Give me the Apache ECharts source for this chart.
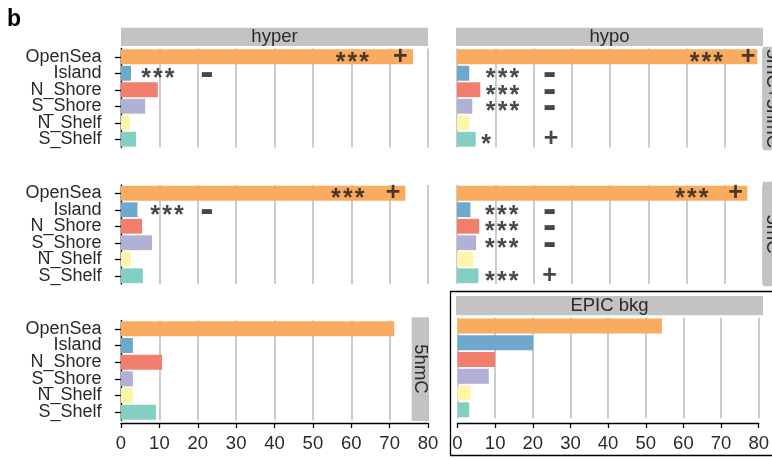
<!DOCTYPE html>
<html><head><meta charset="utf-8">
<script src="https://cdn.jsdelivr.net/npm/echarts@6/dist/echarts.min.js"></script>
<style>html,body{margin:0;padding:0;background:#fff}#c{width:772px;height:460px}</style>
</head><body><div id="c"></div>
<script>
const categories = ['OpenSea','Island','N_Shore','S_Shore','N_Shelf','S_Shelf'];
const colors = ['#F9AC5F','#6FA8CD','#F27E6E','#B1B0D5','#FFF5A8','#83D0C2'];
const xTicks = [0,10,20,30,40,50,60,70,80];

const hyper_5mC5hmC = [76.1, 2.6, 9.6, 6.3, 2.3, 3.9];
const hypo_5mC5hmC  = [78.5, 3.2, 6.1, 4.0, 3.2, 4.9];
const hyper_5mC     = [74.1, 4.3, 5.5, 8.1, 2.6, 5.7];
const hypo_5mC      = [75.9, 3.5, 5.8, 5.0, 4.2, 5.6];
const hyper_5hmC    = [71.2, 3.1, 10.7, 3.1, 3.1, 9.1];
const epic_bkg      = [54.3, 20.1, 10.0, 8.3, 3.4, 3.1];

// significance annotations: [category, x position, text]
const ann_hyper_5mC5hmC = [['OpenSea',60.3,'***'],['OpenSea',72.8,'+'],['Island',9.6,'***'],['Island',22.4,'-']];
const ann_hypo_5mC5hmC  = [['OpenSea',65.2,'***'],['OpenSea',76.1,'+'],['Island',11.9,'***'],['Island',24.2,'-'],
  ['N_Shore',11.9,'***'],['N_Shore',24.2,'-'],['S_Shore',11.9,'***'],['S_Shore',24.2,'-'],['S_Shelf',7.6,'*'],['S_Shelf',24.6,'+']];
const ann_hyper_5mC = [['OpenSea',59.1,'***'],['OpenSea',70.9,'+'],['Island',12.0,'***'],['Island',22.4,'-']];
const ann_hypo_5mC  = [['OpenSea',61.4,'***'],['OpenSea',72.8,'+'],['Island',11.7,'***'],['Island',24.2,'-'],
  ['N_Shore',11.7,'***'],['N_Shore',24.2,'-'],['S_Shore',11.7,'***'],['S_Shore',24.2,'-'],['S_Shelf',11.7,'***'],['S_Shelf',24.2,'+']];

const FONT = "'Liberation Sans', Arial, Helvetica, sans-serif";
const NFONT = "'Liberation Sans Narrow', 'Arial Narrow', 'Liberation Sans', sans-serif";
const GRIDC = '#BEBFBF';
const STRIP = '#C3C3C4';
const TXT = '#2a2a2a';

const grids = [
  {left:121, top:48.5, width:307, height:99},
  {left:457, top:48.5, width:306, height:99},
  {left:121, top:185, width:307, height:99},
  {left:457, top:185, width:306, height:99},
  {left:121, top:320.5, width:307, height:100},
  {left:457.5, top:317.6, width:305, height:100.6}
];
const panelData = [hyper_5mC5hmC, hypo_5mC5hmC, hyper_5mC, hypo_5mC, hyper_5hmC, epic_bkg];
const panelAnn = [ann_hyper_5mC5hmC, ann_hypo_5mC5hmC, ann_hyper_5mC, ann_hypo_5mC, [], []];

const xAxes = grids.map((g,i)=>{
  const bottom = i>=4;
  return {
    gridIndex:i, type:'value', min:0, max:80, interval:10,
    offset: i===4 ? 2.5 : (i===5 ? 4.8 : 0),
    axisLine:{show:bottom, onZero:false, lineStyle:{color:'#000', width:1.3}},
    axisTick:{show:bottom, length:5, lineStyle:{color:'#000', width:1.3}},
    axisLabel:{show:bottom, fontSize:18.5, color:TXT, fontFamily:NFONT, margin:11,
      formatter: v => xTicks.indexOf(v) >= 0 ? String(v) : ''},
    splitLine:{show:true, lineStyle:{color:GRIDC, width:1.6}}
  };
});
const yAxes = grids.map((g,i)=>{
  const left = (i===0||i===2||i===4);
  return {
    gridIndex:i, type:'category', data:categories, inverse:true,
    offset: left ? 6.5 : 0,
    axisLine:{show:left, lineStyle:{color:'#000', width:1.3}},
    axisTick:{show:left, alignWithLabel:true, interval:0, length:6, lineStyle:{color:'#000', width:1.3}},
    axisLabel:{show:left, interval:0, fontSize:18, color:TXT, fontFamily:NFONT, margin:13},
    splitLine:{show:false}
  };
});
const series = [];
panelData.forEach((arr,i)=>{
  series.push({
    type:'bar', xAxisIndex:i, yAxisIndex:i, barWidth:'90%',
    data: arr.map((v,k)=>({value:v, itemStyle:{color:colors[k]}})),
    z:2, silent:true
  });
  if (panelAnn[i].length) {
    series.push({
      type:'scatter', xAxisIndex:i, yAxisIndex:i, symbolSize:1, z:5, silent:true,
      itemStyle:{color:'rgba(0,0,0,0)'},
      data: panelAnn[i].map(a=>{
        const t = a[2];
        const star = t.indexOf('*')>=0;
        const minus = t === '-';
        return {value:[a[1], a[0]], name: star ? t.split('').join('\u200A') : t, label:{
          show:true, position:'inside', formatter:'{b}', fontFamily:FONT, color:'#1a1a1a',
          fontSize: star ? 25 : (minus ? 40 : 25), fontWeight: 'bold',
          offset: star ? [0,6] : (minus ? [0,1] : [0,0])
        }};
      })
    });
  }
});

function strip(x,y,w,h){ return {type:'rect', shape:{x:x,y:y,width:w,height:h}, style:{fill:STRIP}, z:1}; }
function stext(x,y,t,rot){ return {type:'text', x:x, y:y, rotation: rot||0, style:{text:t, fill:TXT, font:'18.5px '+NFONT, align:'center', verticalAlign:'middle'}, z:3}; }

const graphic = [
  {type:'text', left:7, top:8, style:{text:'b', fill:'#000', font:'bold 23px '+FONT}},
  strip(121,27.7,307,18.3), stext(274.5,37,'hyper'),
  strip(456,27.7,307,18.3), stext(609.5,37,'hypo'),
  strip(763,46.7,20,103.5), stext(772.5,98.4,'5mC+5hmC',-Math.PI/2),
  strip(763,181.7,20,104.5), stext(772.5,234,'5mC',-Math.PI/2),
  strip(411.7,317.3,17.3,103.7), stext(420.3,369,'5hmC',-Math.PI/2),
  strip(456,296,307,19.3), stext(609.5,305.8,'EPIC bkg'),
  {type:'rect', shape:{x:450.5,y:291.5,width:340,height:164}, style:{fill:'none', stroke:'#000', lineWidth:1.3}, z:0}
];

const chart = echarts.init(document.getElementById('c'), null, {renderer:'canvas'});
chart.setOption({
  animation:false, backgroundColor:'#fff',
  grid: grids, xAxis: xAxes, yAxis: yAxes, series: series, graphic: graphic
});
</script></body></html>
